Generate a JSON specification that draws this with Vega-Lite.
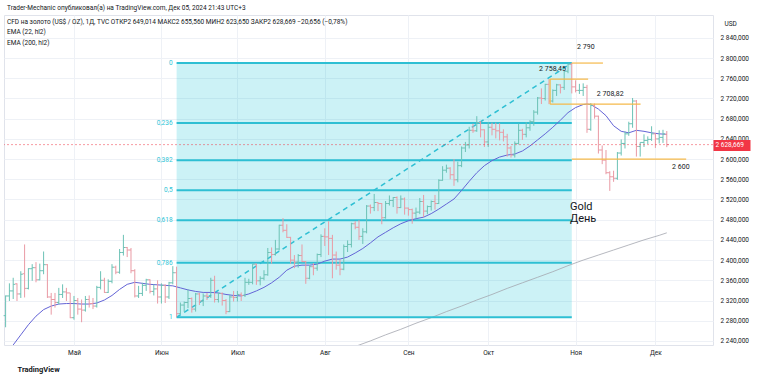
{
  "$schema": "https://vega.github.io/schema/vega-lite/v6.json",
  "width": 709,
  "height": 330,
  "autosize": {"type": "none"},
  "padding": {"left": 4, "top": 15, "right": 45, "bottom": 34},
  "background": "white",
  "title": {
    "text": "Trader-Mechanic опубликовал(а) на TradingView.com, Дек 05, 2024 21:43 UTC+3",
    "subtitle": ["CFD на золото (US$ / OZ), 1Д, TVC  ОТКР2 649,014  МАКС2 655,560  МИН2 623,650  ЗАКР2 628,669  −20,656 (−0,78%)", "EMA (22, hl2)", "EMA (200, hl2)"],
    "anchor": "start",
    "frame": "group",
    "offset": -31,
    "dx": 3,
    "font": "Roboto",
    "fontSize": 6.5,
    "fontWeight": "normal",
    "color": "#131722",
    "subtitleFont": "Roboto",
    "subtitleFontSize": 6.5,
    "subtitleColor": "#131722",
    "subtitleLineHeight": 10.5,
    "subtitlePadding": 7
  },
  "datasets": {
    "bars": [
      {"d":"2024-04-05","i":0,"o":2290,"h":2330,"l":2267,"c":2329},
      {"d":"2024-04-08","i":1,"o":2329,"h":2354,"l":2319,"c":2339},
      {"d":"2024-04-09","i":2,"o":2339,"h":2365,"l":2323,"c":2352},
      {"d":"2024-04-10","i":3,"o":2353,"h":2354,"l":2319,"c":2333},
      {"d":"2024-04-11","i":4,"o":2333,"h":2378,"l":2325,"c":2372},
      {"d":"2024-04-12","i":5,"o":2373,"h":2431,"l":2326,"c":2344},
      {"d":"2024-04-15","i":6,"o":2344,"h":2384,"l":2342,"c":2383},
      {"d":"2024-04-16","i":7,"o":2383,"h":2392,"l":2359,"c":2385},
      {"d":"2024-04-17","i":8,"o":2385,"h":2396,"l":2356,"c":2361},
      {"d":"2024-04-18","i":9,"o":2361,"h":2393,"l":2360,"c":2379},
      {"d":"2024-04-19","i":10,"o":2379,"h":2417,"l":2372,"c":2391},
      {"d":"2024-04-22","i":11,"o":2391,"h":2392,"l":2325,"c":2327},
      {"d":"2024-04-23","i":12,"o":2327,"h":2335,"l":2292,"c":2322},
      {"d":"2024-04-24","i":13,"o":2322,"h":2335,"l":2306,"c":2316},
      {"d":"2024-04-25","i":14,"o":2316,"h":2345,"l":2312,"c":2332},
      {"d":"2024-04-26","i":15,"o":2332,"h":2352,"l":2325,"c":2337},
      {"d":"2024-04-29","i":16,"o":2337,"h":2345,"l":2319,"c":2335},
      {"d":"2024-04-30","i":17,"o":2335,"h":2335,"l":2285,"c":2286},
      {"d":"2024-05-01","i":18,"o":2286,"h":2329,"l":2282,"c":2320},
      {"d":"2024-05-02","i":19,"o":2320,"h":2325,"l":2292,"c":2303},
      {"d":"2024-05-03","i":20,"o":2303,"h":2322,"l":2277,"c":2301},
      {"d":"2024-05-06","i":21,"o":2301,"h":2329,"l":2298,"c":2322},
      {"d":"2024-05-07","i":22,"o":2322,"h":2330,"l":2306,"c":2314},
      {"d":"2024-05-08","i":23,"o":2314,"h":2325,"l":2303,"c":2309},
      {"d":"2024-05-09","i":24,"o":2309,"h":2349,"l":2306,"c":2346},
      {"d":"2024-05-10","i":25,"o":2346,"h":2378,"l":2342,"c":2360},
      {"d":"2024-05-13","i":26,"o":2360,"h":2365,"l":2335,"c":2336},
      {"d":"2024-05-14","i":27,"o":2336,"h":2362,"l":2335,"c":2358},
      {"d":"2024-05-15","i":28,"o":2358,"h":2392,"l":2354,"c":2386},
      {"d":"2024-05-16","i":29,"o":2386,"h":2389,"l":2372,"c":2376},
      {"d":"2024-05-17","i":30,"o":2376,"h":2422,"l":2373,"c":2415},
      {"d":"2024-05-20","i":31,"o":2415,"h":2450,"l":2409,"c":2425},
      {"d":"2024-05-21","i":32,"o":2425,"h":2426,"l":2406,"c":2420},
      {"d":"2024-05-22","i":33,"o":2420,"h":2424,"l":2374,"c":2379},
      {"d":"2024-05-23","i":34,"o":2379,"h":2382,"l":2326,"c":2329},
      {"d":"2024-05-24","i":35,"o":2329,"h":2349,"l":2325,"c":2334},
      {"d":"2024-05-27","i":36,"o":2334,"h":2355,"l":2329,"c":2350},
      {"d":"2024-05-28","i":37,"o":2350,"h":2363,"l":2339,"c":2361},
      {"d":"2024-05-29","i":38,"o":2361,"h":2362,"l":2334,"c":2338},
      {"d":"2024-05-30","i":39,"o":2338,"h":2352,"l":2330,"c":2343},
      {"d":"2024-05-31","i":40,"o":2343,"h":2360,"l":2314,"c":2327},
      {"d":"2024-06-03","i":41,"o":2327,"h":2354,"l":2314,"c":2350},
      {"d":"2024-06-04","i":42,"o":2350,"h":2352,"l":2315,"c":2327},
      {"d":"2024-06-05","i":43,"o":2327,"h":2357,"l":2323,"c":2355},
      {"d":"2024-06-06","i":44,"o":2355,"h":2388,"l":2352,"c":2375},
      {"d":"2024-06-07","i":45,"o":2375,"h":2387,"l":2286.9,"c":2294},
      {"d":"2024-06-10","i":46,"o":2294,"h":2316,"l":2293,"c":2311},
      {"d":"2024-06-11","i":47,"o":2311,"h":2318,"l":2298,"c":2316},
      {"d":"2024-06-12","i":48,"o":2316,"h":2342,"l":2305,"c":2324},
      {"d":"2024-06-13","i":49,"o":2324,"h":2326,"l":2296,"c":2303},
      {"d":"2024-06-14","i":50,"o":2303,"h":2335,"l":2298,"c":2333},
      {"d":"2024-06-17","i":51,"o":2333,"h":2335,"l":2311,"c":2319},
      {"d":"2024-06-18","i":52,"o":2319,"h":2334,"l":2309,"c":2329},
      {"d":"2024-06-19","i":53,"o":2329,"h":2335,"l":2321,"c":2328},
      {"d":"2024-06-20","i":54,"o":2328,"h":2365,"l":2325,"c":2360},
      {"d":"2024-06-21","i":55,"o":2360,"h":2369,"l":2316,"c":2322},
      {"d":"2024-06-24","i":56,"o":2322,"h":2335,"l":2316,"c":2334},
      {"d":"2024-06-25","i":57,"o":2334,"h":2336,"l":2310,"c":2320},
      {"d":"2024-06-26","i":58,"o":2320,"h":2323,"l":2293,"c":2298},
      {"d":"2024-06-27","i":59,"o":2298,"h":2331,"l":2297,"c":2327},
      {"d":"2024-06-28","i":60,"o":2327,"h":2339,"l":2318,"c":2326},
      {"d":"2024-07-01","i":61,"o":2326,"h":2339,"l":2318,"c":2332},
      {"d":"2024-07-02","i":62,"o":2332,"h":2336,"l":2319,"c":2330},
      {"d":"2024-07-03","i":63,"o":2330,"h":2365,"l":2327,"c":2356},
      {"d":"2024-07-04","i":64,"o":2356,"h":2363,"l":2351,"c":2356},
      {"d":"2024-07-05","i":65,"o":2356,"h":2392,"l":2352,"c":2392},
      {"d":"2024-07-08","i":66,"o":2392,"h":2393,"l":2351,"c":2359},
      {"d":"2024-07-09","i":67,"o":2359,"h":2368,"l":2350,"c":2364},
      {"d":"2024-07-10","i":68,"o":2364,"h":2380,"l":2360,"c":2371},
      {"d":"2024-07-11","i":69,"o":2371,"h":2424,"l":2369,"c":2415},
      {"d":"2024-07-12","i":70,"o":2415,"h":2425,"l":2393,"c":2411},
      {"d":"2024-07-15","i":71,"o":2411,"h":2440,"l":2409,"c":2422},
      {"d":"2024-07-16","i":72,"o":2422,"h":2470,"l":2419,"c":2469},
      {"d":"2024-07-17","i":73,"o":2469,"h":2483,"l":2455,"c":2459},
      {"d":"2024-07-18","i":74,"o":2459,"h":2471,"l":2444,"c":2445},
      {"d":"2024-07-19","i":75,"o":2445,"h":2446,"l":2393,"c":2400},
      {"d":"2024-07-22","i":76,"o":2400,"h":2410,"l":2384,"c":2396},
      {"d":"2024-07-23","i":77,"o":2396,"h":2412,"l":2385,"c":2409},
      {"d":"2024-07-24","i":78,"o":2409,"h":2431,"l":2396,"c":2397},
      {"d":"2024-07-25","i":79,"o":2397,"h":2398,"l":2353,"c":2364},
      {"d":"2024-07-26","i":80,"o":2364,"h":2390,"l":2362,"c":2387},
      {"d":"2024-07-29","i":81,"o":2387,"h":2394,"l":2370,"c":2384},
      {"d":"2024-07-30","i":82,"o":2384,"h":2413,"l":2379,"c":2411},
      {"d":"2024-07-31","i":83,"o":2411,"h":2451,"l":2406,"c":2447},
      {"d":"2024-08-01","i":84,"o":2447,"h":2463,"l":2428,"c":2446},
      {"d":"2024-08-02","i":85,"o":2446,"h":2477,"l":2410,"c":2443},
      {"d":"2024-08-05","i":86,"o":2443,"h":2450,"l":2364,"c":2410},
      {"d":"2024-08-06","i":87,"o":2410,"h":2417,"l":2381,"c":2390},
      {"d":"2024-08-07","i":88,"o":2390,"h":2401,"l":2370,"c":2382},
      {"d":"2024-08-08","i":89,"o":2382,"h":2431,"l":2380,"c":2427},
      {"d":"2024-08-09","i":90,"o":2427,"h":2439,"l":2416,"c":2431},
      {"d":"2024-08-12","i":91,"o":2431,"h":2474,"l":2425,"c":2472},
      {"d":"2024-08-13","i":92,"o":2472,"h":2477,"l":2461,"c":2465},
      {"d":"2024-08-14","i":93,"o":2465,"h":2479,"l":2440,"c":2447},
      {"d":"2024-08-15","i":94,"o":2447,"h":2463,"l":2432,"c":2456},
      {"d":"2024-08-16","i":95,"o":2456,"h":2509,"l":2453,"c":2507},
      {"d":"2024-08-19","i":96,"o":2507,"h":2510,"l":2492,"c":2504},
      {"d":"2024-08-20","i":97,"o":2504,"h":2531,"l":2497,"c":2514},
      {"d":"2024-08-21","i":98,"o":2514,"h":2515,"l":2497,"c":2512},
      {"d":"2024-08-22","i":99,"o":2512,"h":2513,"l":2471,"c":2484},
      {"d":"2024-08-23","i":100,"o":2484,"h":2517,"l":2482,"c":2512},
      {"d":"2024-08-26","i":101,"o":2512,"h":2528,"l":2508,"c":2518},
      {"d":"2024-08-27","i":102,"o":2518,"h":2525,"l":2505,"c":2524},
      {"d":"2024-08-28","i":103,"o":2524,"h":2526,"l":2492,"c":2504},
      {"d":"2024-08-29","i":104,"o":2504,"h":2528,"l":2503,"c":2521},
      {"d":"2024-08-30","i":105,"o":2521,"h":2524,"l":2490,"c":2503},
      {"d":"2024-09-02","i":106,"o":2503,"h":2504,"l":2488,"c":2500},
      {"d":"2024-09-03","i":107,"o":2500,"h":2502,"l":2472,"c":2493},
      {"d":"2024-09-04","i":108,"o":2493,"h":2504,"l":2482,"c":2495},
      {"d":"2024-09-05","i":109,"o":2495,"h":2523,"l":2491,"c":2516},
      {"d":"2024-09-06","i":110,"o":2516,"h":2529,"l":2485,"c":2497},
      {"d":"2024-09-09","i":111,"o":2497,"h":2508,"l":2491,"c":2506},
      {"d":"2024-09-10","i":112,"o":2506,"h":2518,"l":2498,"c":2516},
      {"d":"2024-09-11","i":113,"o":2516,"h":2529,"l":2500,"c":2512},
      {"d":"2024-09-12","i":114,"o":2512,"h":2560,"l":2511,"c":2558},
      {"d":"2024-09-13","i":115,"o":2558,"h":2586,"l":2557,"c":2578},
      {"d":"2024-09-16","i":116,"o":2578,"h":2589,"l":2573,"c":2582},
      {"d":"2024-09-17","i":117,"o":2582,"h":2584,"l":2560,"c":2569},
      {"d":"2024-09-18","i":118,"o":2569,"h":2600,"l":2547,"c":2559},
      {"d":"2024-09-19","i":119,"o":2559,"h":2595,"l":2554,"c":2587},
      {"d":"2024-09-20","i":120,"o":2587,"h":2625,"l":2584,"c":2622},
      {"d":"2024-09-23","i":121,"o":2622,"h":2634,"l":2614,"c":2628},
      {"d":"2024-09-24","i":122,"o":2628,"h":2664,"l":2621,"c":2657},
      {"d":"2024-09-25","i":123,"o":2657,"h":2670,"l":2652,"c":2656},
      {"d":"2024-09-26","i":124,"o":2656,"h":2685,"l":2654,"c":2672},
      {"d":"2024-09-27","i":125,"o":2672,"h":2675,"l":2643,"c":2658},
      {"d":"2024-09-30","i":126,"o":2658,"h":2659,"l":2624,"c":2634},
      {"d":"2024-10-01","i":127,"o":2634,"h":2673,"l":2624,"c":2663},
      {"d":"2024-10-02","i":128,"o":2663,"h":2672,"l":2647,"c":2659},
      {"d":"2024-10-03","i":129,"o":2659,"h":2672,"l":2641,"c":2656},
      {"d":"2024-10-04","i":130,"o":2656,"h":2671,"l":2637,"c":2653},
      {"d":"2024-10-07","i":131,"o":2653,"h":2659,"l":2635,"c":2644},
      {"d":"2024-10-08","i":132,"o":2644,"h":2650,"l":2605,"c":2622},
      {"d":"2024-10-09","i":133,"o":2622,"h":2626,"l":2603,"c":2608},
      {"d":"2024-10-10","i":134,"o":2608,"h":2635,"l":2603,"c":2631},
      {"d":"2024-10-11","i":135,"o":2631,"h":2670,"l":2629,"c":2657},
      {"d":"2024-10-14","i":136,"o":2657,"h":2660,"l":2638,"c":2649},
      {"d":"2024-10-15","i":137,"o":2649,"h":2673,"l":2643,"c":2662},
      {"d":"2024-10-16","i":138,"o":2662,"h":2677,"l":2656,"c":2674},
      {"d":"2024-10-17","i":139,"o":2674,"h":2697,"l":2666,"c":2693},
      {"d":"2024-10-18","i":140,"o":2693,"h":2723,"l":2688,"c":2721},
      {"d":"2024-10-21","i":141,"o":2721,"h":2740,"l":2709,"c":2720},
      {"d":"2024-10-22","i":142,"o":2720,"h":2749,"l":2716,"c":2748},
      {"d":"2024-10-23","i":143,"o":2748,"h":2758.45,"l":2708.82,"c":2715},
      {"d":"2024-10-24","i":144,"o":2715,"h":2738,"l":2712,"c":2736},
      {"d":"2024-10-25","i":145,"o":2736,"h":2749,"l":2725,"c":2747},
      {"d":"2024-10-28","i":146,"o":2747,"h":2748,"l":2730,"c":2742},
      {"d":"2024-10-29","i":147,"o":2742,"h":2775,"l":2737,"c":2774},
      {"d":"2024-10-30","i":148,"o":2774,"h":2789,"l":2770,"c":2788},
      {"d":"2024-10-31","i":149,"o":2788,"h":2790.15,"l":2730,"c":2743},
      {"d":"2024-11-01","i":150,"o":2743,"h":2756,"l":2732,"c":2736},
      {"d":"2024-11-04","i":151,"o":2736,"h":2749,"l":2729,"c":2736},
      {"d":"2024-11-05","i":152,"o":2736,"h":2750,"l":2725,"c":2742},
      {"d":"2024-11-06","i":153,"o":2742,"h":2747,"l":2652,"c":2659},
      {"d":"2024-11-07","i":154,"o":2659,"h":2711,"l":2656,"c":2706},
      {"d":"2024-11-08","i":155,"o":2706,"h":2710,"l":2680,"c":2685},
      {"d":"2024-11-11","i":156,"o":2685,"h":2686,"l":2611,"c":2618},
      {"d":"2024-11-12","i":157,"o":2618,"h":2627,"l":2590,"c":2598},
      {"d":"2024-11-13","i":158,"o":2598,"h":2618,"l":2570,"c":2573},
      {"d":"2024-11-14","i":159,"o":2573,"h":2576,"l":2537,"c":2565},
      {"d":"2024-11-15","i":160,"o":2565,"h":2577,"l":2555,"c":2562},
      {"d":"2024-11-18","i":161,"o":2562,"h":2614,"l":2559,"c":2612},
      {"d":"2024-11-19","i":162,"o":2612,"h":2639,"l":2607,"c":2631},
      {"d":"2024-11-20","i":163,"o":2631,"h":2655,"l":2621,"c":2650},
      {"d":"2024-11-21","i":164,"o":2650,"h":2674,"l":2646,"c":2670},
      {"d":"2024-11-22","i":165,"o":2670,"h":2721,"l":2662,"c":2715},
      {"d":"2024-11-25","i":166,"o":2715,"h":2717,"l":2605,"c":2625},
      {"d":"2024-11-26","i":167,"o":2625,"h":2633,"l":2605,"c":2633},
      {"d":"2024-11-27","i":168,"o":2633,"h":2649,"l":2624,"c":2637},
      {"d":"2024-11-28","i":169,"o":2637,"h":2645,"l":2630,"c":2639},
      {"d":"2024-11-29","i":170,"o":2639,"h":2665,"l":2636,"c":2650},
      {"d":"2024-12-02","i":171,"o":2650,"h":2651,"l":2622,"c":2640},
      {"d":"2024-12-03","i":172,"o":2640,"h":2657,"l":2631,"c":2643},
      {"d":"2024-12-04","i":173,"o":2643,"h":2658,"l":2632,"c":2650},
      {"d":"2024-12-05","i":174,"o":2649.014,"h":2655.56,"l":2623.65,"c":2628.669}
    ],
    "ema22": [
      {"i":0,"v":2216},{"i":2,"v":2232},{"i":4,"v":2252},{"i":6,"v":2272},{"i":8,"v":2289},{"i":10,"v":2302},
      {"i":12,"v":2309},{"i":14,"v":2313},{"i":16,"v":2314},{"i":18,"v":2314},{"i":20,"v":2313},{"i":22,"v":2313},
      {"i":24,"v":2315},{"i":26,"v":2321},{"i":28,"v":2330},{"i":30,"v":2342},{"i":32,"v":2352},{"i":34,"v":2356},
      {"i":36,"v":2354},{"i":38,"v":2352},{"i":40,"v":2351},{"i":42,"v":2350},{"i":44,"v":2349},{"i":46,"v":2345},
      {"i":48,"v":2341},{"i":50,"v":2338},{"i":52,"v":2336},{"i":54,"v":2336},{"i":56,"v":2335},{"i":58,"v":2332},
      {"i":60,"v":2330},{"i":62,"v":2329},{"i":64,"v":2333},{"i":66,"v":2339},{"i":68,"v":2346},{"i":70,"v":2355},
      {"i":72,"v":2366},{"i":74,"v":2380},{"i":76,"v":2388},{"i":78,"v":2390},{"i":80,"v":2390},{"i":82,"v":2392},
      {"i":84,"v":2398},{"i":86,"v":2402},{"i":88,"v":2402},{"i":90,"v":2406},{"i":92,"v":2414},{"i":94,"v":2423},
      {"i":96,"v":2434},{"i":98,"v":2446},{"i":100,"v":2455},{"i":102,"v":2464},{"i":104,"v":2472},{"i":106,"v":2478},
      {"i":108,"v":2482},{"i":110,"v":2485},{"i":112,"v":2492},{"i":114,"v":2501},{"i":116,"v":2511},{"i":118,"v":2521},
      {"i":120,"v":2538},{"i":122,"v":2556},{"i":124,"v":2573},{"i":126,"v":2587},{"i":128,"v":2597},{"i":130,"v":2604},
      {"i":132,"v":2608},{"i":134,"v":2610},{"i":136,"v":2616},{"i":138,"v":2626},{"i":140,"v":2638},{"i":142,"v":2650},
      {"i":144,"v":2663},{"i":146,"v":2677},{"i":148,"v":2692},{"i":150,"v":2702},{"i":152,"v":2708},{"i":153,"v":2709},
      {"i":154,"v":2708},{"i":156,"v":2699},{"i":158,"v":2686},{"i":160,"v":2666},{"i":162,"v":2655},{"i":164,"v":2652},
      {"i":166,"v":2657},{"i":168,"v":2655},{"i":170,"v":2652},{"i":172,"v":2650},{"i":174,"v":2649}
    ],
    "ema200": [
      {"i":88,"v":2217},{"i":92,"v":2229},{"i":96,"v":2240},{"i":100,"v":2252},{"i":104,"v":2263},{"i":108,"v":2275},
      {"i":112,"v":2286},{"i":116,"v":2298},{"i":120,"v":2309},{"i":124,"v":2321},{"i":128,"v":2332},{"i":132,"v":2344},
      {"i":136,"v":2355},{"i":140,"v":2366},{"i":144,"v":2377},{"i":148,"v":2389},{"i":152,"v":2400},{"i":156,"v":2410},
      {"i":160,"v":2420},{"i":164,"v":2430},{"i":168,"v":2440},{"i":172,"v":2449},{"i":174,"v":2454}
    ],
    "fibzone": [{"from":45,"to":149,"low":2286.9,"high":2790.15}],
    "fib": [
      {"level":"0","price":2790.15,"from":45,"to":149},
      {"level":"0,236","price":2671.38,"from":45,"to":149},
      {"level":"0,382","price":2597.91,"from":45,"to":149},
      {"level":"0,5","price":2538.53,"from":45,"to":149},
      {"level":"0,618","price":2479.14,"from":45,"to":149},
      {"level":"0,786","price":2394.59,"from":45,"to":149},
      {"level":"1","price":2286.9,"from":45,"to":149}
    ],
    "segments": [
      {"x1":149,"x2":157.2,"y1":2790.15,"y2":2790.15},
      {"x1":143.3,"x2":153.3,"y1":2758.45,"y2":2758.45},
      {"x1":143.3,"x2":143.3,"y1":2708.82,"y2":2758.45},
      {"x1":143.3,"x2":167.1,"y1":2708.82,"y2":2708.82},
      {"x1":149,"x2":179.1,"y1":2600,"y2":2600}
    ],
    "labels": [
      {"t":"2 790","i":150.4,"p":2790.15},
      {"t":"2 758,45","i":140.4,"p":2758.45},
      {"t":"2 708,82","i":155.6,"p":2708.82},
      {"t":"2 600","i":175.4,"p":2600}
    ],
    "notes": [{"t":"Gold\nДень","i":148.5,"p":2517}]
  },
  "layer": [
    {
      "layer": [
        {
          "data": {"name": "fibzone"},
          "mark": {"type": "rect", "fill": "#00bcd4", "opacity": 0.2},
          "encoding": {
            "x": {
              "field": "from", "type": "quantitative",
              "scale": {"domain": [-0.421, 186.16], "nice": false, "zero": false},
              "axis": {
                "values": [18, 41, 61, 84, 106, 127, 150, 171],
                "tickCount": 30,
                "labelExpr": "['Май','Июн','Июл','Авг','Сен','Окт','Ноя','Дек'][indexof([18,41,61,84,106,127,150,171], datum.value)]",
                "grid": true, "gridColor": "#eef1f6", "ticks": false, "domain": false,
                "labelFontSize": 6.5, "labelColor": "#131722", "labelPadding": 4, "labelFlush": false, "labelOverlap": false,
                "title": "TradingView", "titleAnchor": "start", "titleAlign": "left", "titleX": 13, "titleY": 24,
                "titleBaseline": "middle", "titleFontSize": 7.5, "titleFontWeight": "bold", "titleColor": "#131722"
              }
            },
            "x2": {"field": "to"},
            "y": {
              "field": "low", "type": "quantitative",
              "scale": {"domain": [2231.9, 2885.3], "nice": false, "zero": false},
              "axis": {
                "orient": "right",
                "values": [2240, 2280, 2320, 2360, 2400, 2440, 2480, 2520, 2560, 2600, 2640, 2680, 2720, 2760, 2800, 2840],
                "tickCount": 40,
                "labelExpr": "replace(replace(format(datum.value, ',.3f'), ',', ' '), '.', ',')",
                "grid": true, "gridColor": "#eef1f6", "ticks": false, "domain": false,
                "labelFontSize": 6.5, "labelColor": "#131722", "labelPadding": 7, "labelFlush": false, "labelOverlap": false,
                "title": "USD", "titleAngle": 0, "titleAlign": "left", "titleBaseline": "middle",
                "titleX": 11, "titleY": 8, "titleFontSize": 6.5, "titleFontWeight": "normal", "titleColor": "#131722"
              }
            },
            "y2": {"field": "high"}
          }
        },
        {
          "data": {"name": "ema200"},
          "mark": {"type": "line", "color": "#a3a6ae", "strokeWidth": 0.8, "clip": true},
          "encoding": {
            "x": {"field": "i", "type": "quantitative"},
            "y": {"field": "v", "type": "quantitative"}
          }
        },
        {
          "data": {"name": "fib"},
          "mark": {"type": "rule", "color": "#2ebfd3", "strokeWidth": 2},
          "encoding": {
            "x": {"field": "from", "type": "quantitative"},
            "x2": {"field": "to"},
            "y": {"field": "price", "type": "quantitative"}
          }
        },
        {
          "data": {"name": "fib"},
          "mark": {"type": "text", "align": "right", "baseline": "middle", "dx": -4, "fontSize": 6.5, "color": "#2ec4d6", "font": "Roboto"},
          "encoding": {
            "x": {"field": "from", "type": "quantitative"},
            "y": {"field": "price", "type": "quantitative"},
            "text": {"field": "level"}
          }
        },
        {
          "data": {"name": "fibzone"},
          "mark": {"type": "rule", "color": "#2ebfd3", "strokeWidth": 1.5, "strokeDash": [5, 4]},
          "encoding": {
            "x": {"field": "from", "type": "quantitative"},
            "x2": {"field": "to"},
            "y": {"field": "low", "type": "quantitative"},
            "y2": {"field": "high"}
          }
        },
        {
          "data": {"name": "ema22"},
          "mark": {"type": "line", "color": "#6464d6", "strokeWidth": 1, "clip": true},
          "encoding": {
            "x": {"field": "i", "type": "quantitative"},
            "y": {"field": "v", "type": "quantitative"}
          }
        },
        {
          "data": {"name": "bars"},
          "mark": {"type": "rule", "strokeWidth": 1},
          "encoding": {
            "x": {"field": "i", "type": "quantitative"},
            "y": {"field": "l", "type": "quantitative"},
            "y2": {"field": "h"},
            "color": {"condition": {"test": "datum.c >= datum.o", "value": "#6cc2b6"}, "value": "#e99aa4"}
          }
        },
        {
          "data": {"name": "bars"},
          "mark": {"type": "tick", "orient": "horizontal", "size": 2, "thickness": 1, "xOffset": -1, "opacity": 1},
          "encoding": {
            "x": {"field": "i", "type": "quantitative"},
            "y": {"field": "o", "type": "quantitative"},
            "color": {"condition": {"test": "datum.c >= datum.o", "value": "#6cc2b6"}, "value": "#e99aa4"}
          }
        },
        {
          "data": {"name": "bars"},
          "mark": {"type": "tick", "orient": "horizontal", "size": 2, "thickness": 1, "xOffset": 1, "opacity": 1},
          "encoding": {
            "x": {"field": "i", "type": "quantitative"},
            "y": {"field": "c", "type": "quantitative"},
            "color": {"condition": {"test": "datum.c >= datum.o", "value": "#6cc2b6"}, "value": "#e99aa4"}
          }
        },
        {
          "data": {"name": "segments"},
          "mark": {"type": "rule", "color": "#f5b94a", "strokeWidth": 1.2},
          "encoding": {
            "x": {"field": "x1", "type": "quantitative"},
            "x2": {"field": "x2"},
            "y": {"field": "y1", "type": "quantitative"},
            "y2": {"field": "y2"}
          }
        },
        {
          "data": {"name": "labels"},
          "transform": [{"filter": "datum.p > 2780"}],
          "mark": {"type": "text", "align": "left", "baseline": "middle", "dy": -16, "fontSize": 7, "color": "#131722", "font": "Roboto"},
          "encoding": {
            "x": {"field": "i", "type": "quantitative"},
            "y": {"field": "p", "type": "quantitative"},
            "text": {"field": "t"}
          }
        },
        {
          "data": {"name": "labels"},
          "transform": [{"filter": "datum.p > 2700 && datum.p < 2780"}],
          "mark": {"type": "text", "align": "left", "baseline": "middle", "dy": -10, "fontSize": 7, "color": "#131722", "font": "Roboto"},
          "encoding": {
            "x": {"field": "i", "type": "quantitative"},
            "y": {"field": "p", "type": "quantitative"},
            "text": {"field": "t"}
          }
        },
        {
          "data": {"name": "labels"},
          "transform": [{"filter": "datum.p < 2700"}],
          "mark": {"type": "text", "align": "left", "baseline": "middle", "dy": 8, "fontSize": 7, "color": "#131722", "font": "Roboto"},
          "encoding": {
            "x": {"field": "i", "type": "quantitative"},
            "y": {"field": "p", "type": "quantitative"},
            "text": {"field": "t"}
          }
        },
        {
          "data": {"name": "notes"},
          "mark": {"type": "text", "align": "left", "baseline": "top", "fontSize": 11, "lineBreak": "\n", "lineHeight": 11.5, "color": "#131722", "font": "Roboto"},
          "encoding": {
            "x": {"field": "i", "type": "quantitative"},
            "y": {"field": "p", "type": "quantitative"},
            "text": {"field": "t"}
          }
        }
      ]
    },
    {
      "data": {"name": "bars"},
      "transform": [{"filter": "datum.i == 174"}],
      "mark": {"type": "rule", "color": "#f23645", "strokeWidth": 1, "strokeDash": [2, 2], "opacity": 0.5},
      "encoding": {
        "y": {
          "field": "c", "type": "quantitative",
          "axis": {
            "orient": "right", "values": [2628.669],
            "labelExpr": "replace(replace(format(datum.value, ',.3f'), ',', ' '), '.', ',')",
            "grid": false, "domain": false, "ticks": true,
            "tickColor": "#f23645", "tickSize": 37, "tickWidth": 11,
            "labelColor": "#ffffff", "labelPadding": -35, "labelFontSize": 6.5,
            "labelFlush": false, "labelOverlap": false, "labelBound": false, "title": null
          }
        }
      }
    }
  ],
  "resolve": {"axis": {"y": "independent"}},
  "config": {
    "view": {"stroke": "#e0e3eb", "strokeWidth": 1},
    "font": "Roboto",
    "axis": {"labelFont": "Roboto", "titleFont": "Roboto"}
  }
}
